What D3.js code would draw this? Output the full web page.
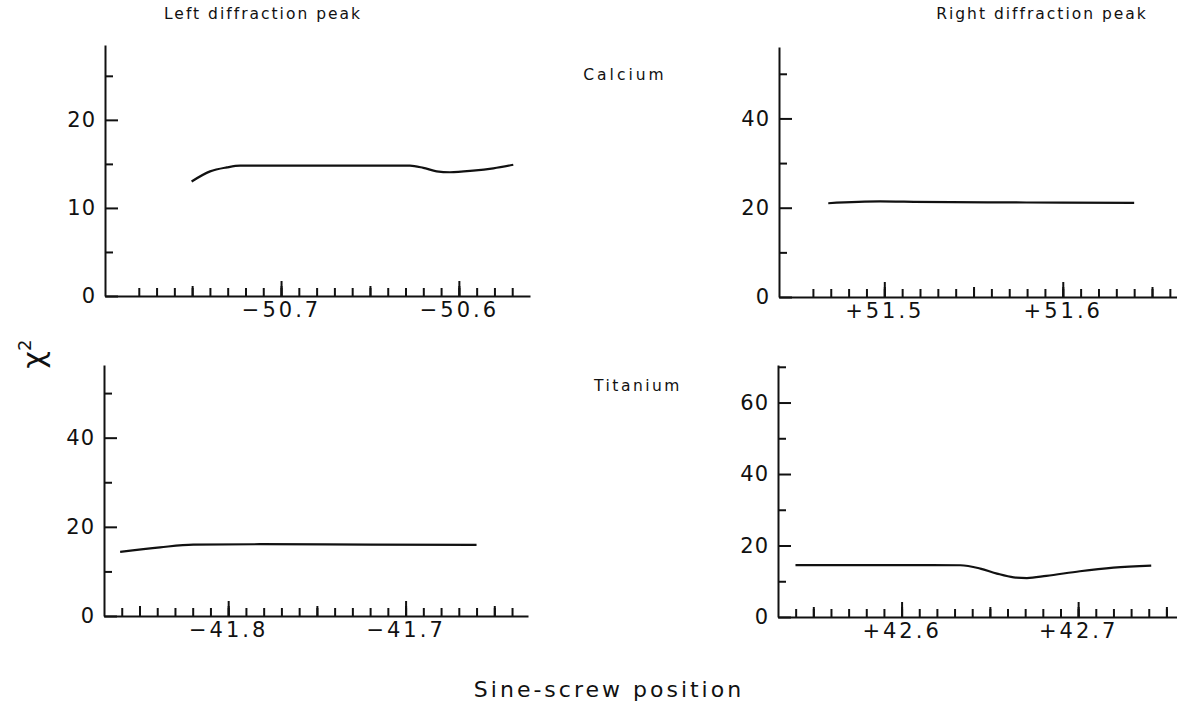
<!DOCTYPE html>
<html>
<head>
<meta charset="utf-8">
<script src="https://cdn.jsdelivr.net/npm/d3@7"></script>
<style>
  body { margin: 0; background: #fff; }
  svg { display: block; }
  .axis path, .axis line { stroke: #111; stroke-width: 2; }
  .axis text { font-family: "DejaVu Sans", sans-serif; font-size: 21px; fill: #111; }
  .label { font-family: "DejaVu Sans", sans-serif; fill: #111; }
  .curve { fill: none; stroke: #111; stroke-width: 2.2; }
</style>
</head>
<body>
<svg width="1177" height="712"></svg>
<script>
// Calcium, left peak
const caLeftX = [-50.7503, -50.7399, -50.7305, -50.723, -50.70, -50.66, -50.6275, -50.620, -50.6125, -50.605, -50.592, -50.5806, -50.5694];
const caLeftY = [13.0, 14.15, 14.6, 14.8, 14.8, 14.8, 14.8, 14.55, 14.16, 14.05, 14.23, 14.5, 14.9];
// Calcium, right peak
const caRightX = [51.4686, 51.4976, 51.511, 51.558, 51.600, 51.640];
const caRightY = [21.0, 21.4, 21.35, 21.2, 21.15, 21.1];
// Titanium, left peak
const tiLeftX = [-41.8609, -41.8384, -41.8197, -41.782, -41.72, -41.660];
const tiLeftY = [14.4, 15.4, 16.0, 16.1, 16.0, 15.96];
// Titanium, right peak
const tiRightX = [42.5399, 42.60, 42.6333, 42.6446, 42.654, 42.6635, 42.671, 42.682, 42.701, 42.720, 42.7414];
const tiRightY = [14.5, 14.5, 14.48, 13.55, 12.15, 11.1, 10.9, 11.5, 12.8, 13.8, 14.4];

// tick values and labels
const caLeftMajor = [-50.7, -50.6], caLeftLabels = ["\u221250.7", "\u221250.6"];
const caRightMajor = [51.5, 51.6], caRightLabels = ["+51.5", "+51.6"];
const tiLeftMajor = [-41.8, -41.7], tiLeftLabels = ["\u221241.8", "\u221241.7"];
const tiRightMajor = [42.6, 42.7], tiRightLabels = ["+42.6", "+42.7"];
const yTicksCaLeft = [0, 10, 20];
const yTicksCaRight = [0, 20, 40];
const yTicksTiLeft = [0, 20, 40];
const yTicksTiRight = [0, 20, 40, 60];

const svg = d3.select('svg');

function drawPanel(p) {
  const x = d3.scaleLinear().domain(p.xDomain).range([p.left, p.right]);
  const y = d3.scaleLinear().domain([0, p.yMax]).range([p.bottom, p.top]);
  const g = svg.append('g');

  // x minor ticks every 0.01, medium at 0.05, major at 0.1
  const minor = d3.range(p.firstTick, p.lastTick + 0.0001, 0.01).map(v => Math.round(v * 100) / 100);
  const medium = minor.filter(v => Math.abs(Math.round(v * 20) - v * 20) < 1e-6);

  g.append('g').attr('class', 'axis')
    .attr('transform', `translate(0, ${p.bottom})`)
    .call(d3.axisBottom(x).tickValues(minor).tickSizeInner(-8).tickSizeOuter(0).tickFormat(''));
  g.append('g').attr('class', 'axis')
    .attr('transform', `translate(0, ${p.bottom})`)
    .call(d3.axisBottom(x).tickValues(medium).tickSizeInner(-10).tickSizeOuter(0).tickFormat(''))
    .select('.domain').remove();
  const xa = g.append('g').attr('class', 'axis')
    .attr('transform', `translate(0, ${p.bottom})`)
    .call(d3.axisBottom(x).tickValues(p.xMajor).tickSizeInner(-15).tickSizeOuter(0).tickPadding(6)
      .tickFormat((d, i) => p.xLabels[i]));
  xa.select('.domain').remove();
  xa.selectAll('text').style('letter-spacing', '3px');

  // y ticks pointing inward
  const yMinor = p.yTicks.slice(0, -1).map((v, i) => (v + p.yTicks[i + 1]) / 2);
  yMinor.push(p.yTicks[p.yTicks.length - 1] + (p.yTicks[1] - p.yTicks[0]) / 2);
  g.append('g').attr('class', 'axis')
    .attr('transform', `translate(${p.left}, 0)`)
    .call(d3.axisLeft(y).tickValues(yMinor).tickSizeInner(-8).tickSizeOuter(0).tickFormat(''));
  const ya = g.append('g').attr('class', 'axis')
    .attr('transform', `translate(${p.left}, 0)`)
    .call(d3.axisLeft(y).tickValues(p.yTicks).tickSizeInner(-13).tickSizeOuter(0).tickPadding(9));
  ya.select('.domain').remove();
  ya.selectAll('text').style('letter-spacing', '1px');

  const line = d3.line()
    .x(d => x(d[0]))
    .y(d => y(d[1]))
    .curve(d3.curveMonotoneX);

  g.append('path')
    .attr('class', 'curve')
    .attr('d', line(p.xs.map((v, i) => [v, p.ys[i]])));
}

drawPanel({ left: 105, right: 530, top: 45, bottom: 296, yMax: 28.5,
  xDomain: [-50.799, -50.560], firstTick: -50.78, lastTick: -50.57,
  xMajor: caLeftMajor, xLabels: caLeftLabels, yTicks: yTicksCaLeft, xs: caLeftX, ys: caLeftY });
drawPanel({ left: 779, right: 1177, top: 47, bottom: 297, yMax: 56,
  xDomain: [51.441, 51.664], firstTick: 51.46, lastTick: 51.66,
  xMajor: caRightMajor, xLabels: caRightLabels, yTicks: yTicksCaRight, xs: caRightX, ys: caRightY });
drawPanel({ left: 104, right: 528, top: 365, bottom: 616, yMax: 56.3,
  xDomain: [-41.87, -41.631], firstTick: -41.86, lastTick: -41.64,
  xMajor: tiLeftMajor, xLabels: tiLeftLabels, yTicks: yTicksTiLeft, xs: tiLeftX, ys: tiLeftY });
drawPanel({ left: 778, right: 1177, top: 365, bottom: 617, yMax: 70.5,
  xDomain: [42.53, 42.756], firstTick: 42.54, lastTick: 42.75,
  xMajor: tiRightMajor, xLabels: tiRightLabels, yTicks: yTicksTiRight, xs: tiRightX, ys: tiRightY });

// titles
const titleStyle = sel => sel.attr('class', 'label').attr('text-anchor', 'middle')
  .style('font-size', '15.5px').style('letter-spacing', '2px');
svg.append('text').call(titleStyle).attr('x', 263).attr('y', 19).text('Left diffraction peak');
svg.append('text').call(titleStyle).attr('x', 1042).attr('y', 19).text('Right diffraction peak');
svg.append('text').call(titleStyle).attr('x', 625).attr('y', 80).style('letter-spacing', '3px').text('Calcium');
svg.append('text').call(titleStyle).attr('x', 638).attr('y', 391).style('letter-spacing', '2.5px').text('Titanium');
svg.append('text').attr('class', 'label').attr('x', 609).attr('y', 697)
  .attr('text-anchor', 'middle').style('font-size', '22px').style('letter-spacing', '3px')
  .text('Sine-screw position');

const chi = svg.append('text').attr('class', 'label')
  .attr('transform', 'translate(44, 354) rotate(-90)')
  .attr('text-anchor', 'middle').style('font-size', '30px');
chi.append('tspan').text('\u03c7');
chi.append('tspan').attr('dy', -13).style('font-size', '18px').text('2');
</script>
</body>
</html>
